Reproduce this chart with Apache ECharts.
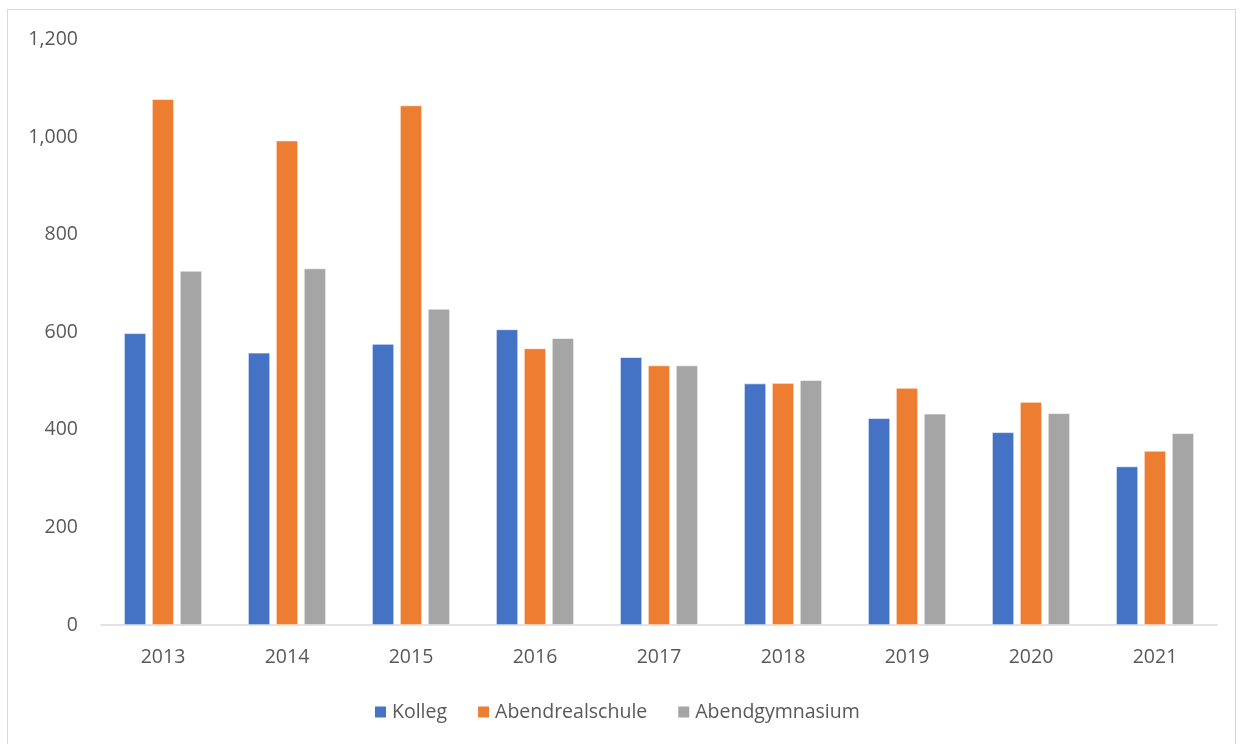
<!DOCTYPE html>
<html>
<head>
<meta charset="utf-8">
<script src="https://cdn.jsdelivr.net/npm/echarts@6/dist/echarts.min.js"></script>
<style>
  html, body { margin: 0; padding: 0; background: #fff; }
  #frame { position: absolute; left: 7px; top: 9px; width: 1229px; height: 745px; border: 1px solid #d9d9d9; box-sizing: border-box; }
  #chart { position: absolute; left: 0; top: 0; width: 1244px; height: 744px; }
</style>
</head>
<body>
<div id="frame"></div>
<div id="chart"></div>
<script>
// data
const years = ['2013', '2014', '2015', '2016', '2017', '2018', '2019', '2020', '2021'];
const kolleg = [598, 558, 576, 606, 549, 495, 424, 395, 325];
const abendrealschule = [1078, 993, 1065, 567, 532, 496, 486, 457, 357];
const abendgymnasium = [726, 731, 648, 588, 532, 502, 433, 434, 393];
const yTicks = [0, 200, 400, 600, 800, 1000, 1200];

const font = '"Open Sans", "Noto Sans", sans-serif';

document.addEventListener('DOMContentLoaded', function() {
    const chart = echarts.init(document.getElementById('chart'));

    function barSeries(name, data, color) {
        return {
            name: name,
            type: 'bar',
            data: data,
            barWidth: 22,
            barGap: '27%',
            itemStyle: { color: color, borderColor: '#ffffff', borderWidth: 0.6 }
        };
    }

    chart.setOption({
        animation: false,
        textStyle: { fontFamily: font },
        grid: { left: 101, right: 27, top: 39.6, bottom: 119 },
        legend: {
            bottom: 17,
            left: 368,
            itemWidth: 13,
            itemHeight: 13,
            itemGap: 29,
            icon: 'rect',
            textStyle: { color: '#595959', fontSize: 19.5, fontFamily: font, padding: [0, 0, 0, 0] },
            data: ['Kolleg', 'Abendrealschule', 'Abendgymnasium']
        },
        xAxis: {
            type: 'category',
            data: years,
            axisLine: { lineStyle: { color: '#d9d9d9', width: 1.5 } },
            axisTick: { show: false },
            axisLabel: { color: '#595959', fontSize: 19.5, margin: 22 }
        },
        yAxis: {
            type: 'value',
            min: yTicks[0],
            max: yTicks[yTicks.length - 1],
            interval: 200,
            axisLine: { show: false },
            axisTick: { show: false },
            splitLine: { show: false },
            axisLabel: {
                color: '#595959',
                fontSize: 19.5,
                margin: 23,
                formatter: function(v) { return v.toLocaleString('en-US'); }
            }
        },
        series: [
            barSeries('Kolleg', kolleg, '#4472c4'),
            barSeries('Abendrealschule', abendrealschule, '#ed7d31'),
            barSeries('Abendgymnasium', abendgymnasium, '#a5a5a5')
        ]
    });

    window.addEventListener('resize', function() {
        chart.resize();
    });
});
</script>
</body>
</html>
